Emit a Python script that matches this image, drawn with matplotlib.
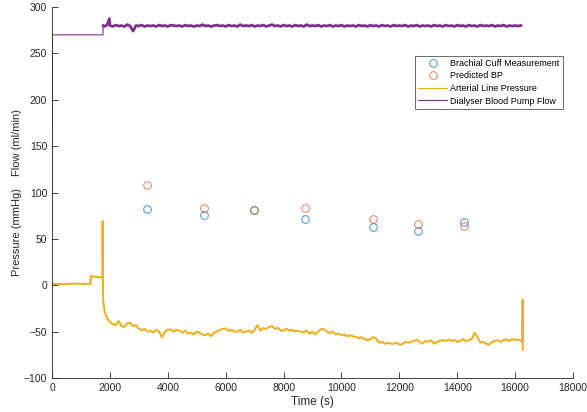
import numpy as np
import matplotlib.pyplot as plt

plt.rcParams['font.family'] = ['Liberation Sans', 'DejaVu Sans']

# cuff readings (s, mmHg)
cuff_t = [3290, 5250, 6980, 8750, 11100, 12660, 14240]
cuff_bp = [82.3, 76.2, 81.6, 71.2, 63.3, 58.2, 68.7]
pred_bp = [108.6, 83.8, 81.6, 83.8, 71.9, 66.5, 64.4]

# arterial line pressure, start-up section
art_t0 = [0, 400, 800, 1200, 1335, 1340, 1500, 1745, 1750, 1760, 1775, 1800, 1830, 1900, 1950]
art_p0 = [1.5, 1.2, 1.8, 1.4, 1.5, 9.8, 9.2, 8.3, 69.3, -10.8, -19, -24, -30, -35, -38]

# arterial line pressure, every 100 s from 2000 to 16200
art_t1 = np.arange(2000, 16201, 100)
art_p1 = [-39.5, -42, -43, -38.5, -44, -45, -41, -40.6, -44, -43,
          -47, -48.5, -47, -50, -49, -51, -48, -50, -56, -50,
          -48, -47.8, -50, -48, -49, -51, -49, -52, -51, -53,
          -50, -51.4, -53, -54, -52, -55, -51, -50, -48, -47,
          -46.7, -49, -48, -50, -50, -48, -51, -50, -49, -51,
          -48, -43, -49, -46, -47, -45, -44, -47, -46, -49,
          -48.5, -47, -49, -48, -50, -49, -50, -51, -49, -52,
          -50, -53, -50, -47, -47.4, -50, -51.4, -50, -53, -52,
          -54, -53, -55, -54, -55, -56, -57, -56, -58, -59.3,
          -58, -56, -57.5, -62, -61, -63, -62, -63, -63, -62,
          -64, -63.6, -61, -62, -61, -60, -58.5, -61, -63, -60,
          -61, -59.3, -63, -61, -60, -59, -60, -58.5, -60, -59,
          -61, -60, -58, -60, -59.3, -58, -51.4, -56, -62, -61,
          -63, -64, -61, -60, -59.3, -61, -59, -58.5, -60, -58,
          -59, -58.5, -60]
art_t2 = [16250, 16260, 16265]
art_p2 = [-58, -15.4, -69]

# dialyser blood pump flow
flow_t0 = [0, 10, 1760, 1770]
flow_f0 = [55, 270, 270, 280]
flow_t1 = [1770, 1800, 1900, 1980]
flow_f1 = [280, 279, 280.5, 287.5]
flow_t2 = np.arange(2000, 16201, 100)
flow_f2 = [280, 279, 280.5, 279.5, 280, 279, 281, 279.5, 274, 280,
           279.5, 280.5, 279, 280, 279.5, 280, 279, 280.5, 279.5, 280,
           279, 280.5, 280, 279.5, 280, 279, 280.5, 279.5, 280, 279,
           280, 279.5, 281, 279.5, 280, 279, 280, 280.5, 279.5, 280,
           279, 280.5, 279.5, 280, 279, 281, 279.5, 280, 279.5, 280.5,
           279, 280, 279.5, 280.5, 279, 280, 281, 279.5, 280, 279,
           280.5, 279.5, 280, 279, 280.5, 279.5, 280, 279, 281, 279.5,
           280, 279.5, 280.5, 279, 280, 279.5, 280.5, 279, 280, 279.5,
           280.5, 279, 280, 279.5, 280, 279, 280.5, 279.5, 280, 279,
           280.5, 279.5, 280, 279, 280.5, 279.5, 280, 279, 280.5, 279.5,
           280, 279.5, 280.5, 279, 280, 279.5, 280.5, 279, 280, 279.5,
           280, 279, 280.5, 279.5, 280, 279, 280.5, 279.5, 280, 279,
           280.5, 279.5, 280, 279, 280.5, 279.5, 280, 279, 280.5, 279.5,
           280, 279.5, 280.5, 279, 280, 279.5, 280.5, 279, 280, 279.5,
           280, 279.5, 280]

art_t = np.concatenate([art_t0, art_t1, art_t2])
art_p = np.concatenate([art_p0, art_p1, art_p2])
flow_t = np.concatenate([flow_t1, flow_t2])
flow_f = np.concatenate([flow_f1, flow_f2])

fig = plt.figure(figsize=(5.87, 4.12), dpi=100)
ax = fig.add_axes([0.0886, 0.0825, 0.8876, 0.9005])

ax.plot(cuff_t, cuff_bp, 'o', mfc='none', mec='#0072BD', ms=5.5, mew=0.7,
        alpha=0.75, label='Brachial Cuff Measurement')
ax.plot(cuff_t, pred_bp, 'o', mfc='none', mec='#D95319', ms=5.5, mew=0.7,
        alpha=0.75, label='Predicted BP')
ax.plot(art_t, art_p, color='#EDB120', lw=1.5, label='Arterial Line Pressure')
ax.plot(flow_t0, flow_f0, color='#7E2F8E', lw=1.0, alpha=0.8)
ax.plot(flow_t, flow_f, color='#7E2F8E', lw=2.0, label='Dialyser Blood Pump Flow')

ax.set_xlim(0, 18000)
ax.set_ylim(-100, 300)
ax.set_xticks(np.arange(0, 18001, 2000))
ax.set_yticks(np.arange(-100, 301, 50))
ax.spines['top'].set_visible(False)
ax.spines['right'].set_visible(False)
for s in ['left', 'bottom']:
    ax.spines[s].set_color('#262626')
    ax.spines[s].set_linewidth(0.6)
ax.tick_params(direction='in', length=4, width=0.6, colors='#262626',
               labelsize=7.5)

ax.set_xlabel('Time (s)', fontsize=8.5, color='#262626', labelpad=2)
fig.text(0.029, 0.437, 'Pressure (mmHg)', rotation=90, ha='center', va='center',
         fontsize=8, color='#262626')
fig.text(0.029, 0.655, 'Flow (ml/min)', rotation=90, ha='center', va='center',
         fontsize=8, color='#262626')

leg = ax.legend(loc='upper right', bbox_to_anchor=(0.98, 0.869), fontsize=6.5,
                frameon=True, fancybox=False, handlelength=3.3, handletextpad=0.3,
                borderpad=0.35, labelspacing=0.4, borderaxespad=0)
leg.get_frame().set_edgecolor('#262626')
leg.get_frame().set_linewidth(0.6)
for h in leg.get_lines()[2:]:
    h.set_linewidth(0.8)

fig.savefig('out.png', dpi=100)
